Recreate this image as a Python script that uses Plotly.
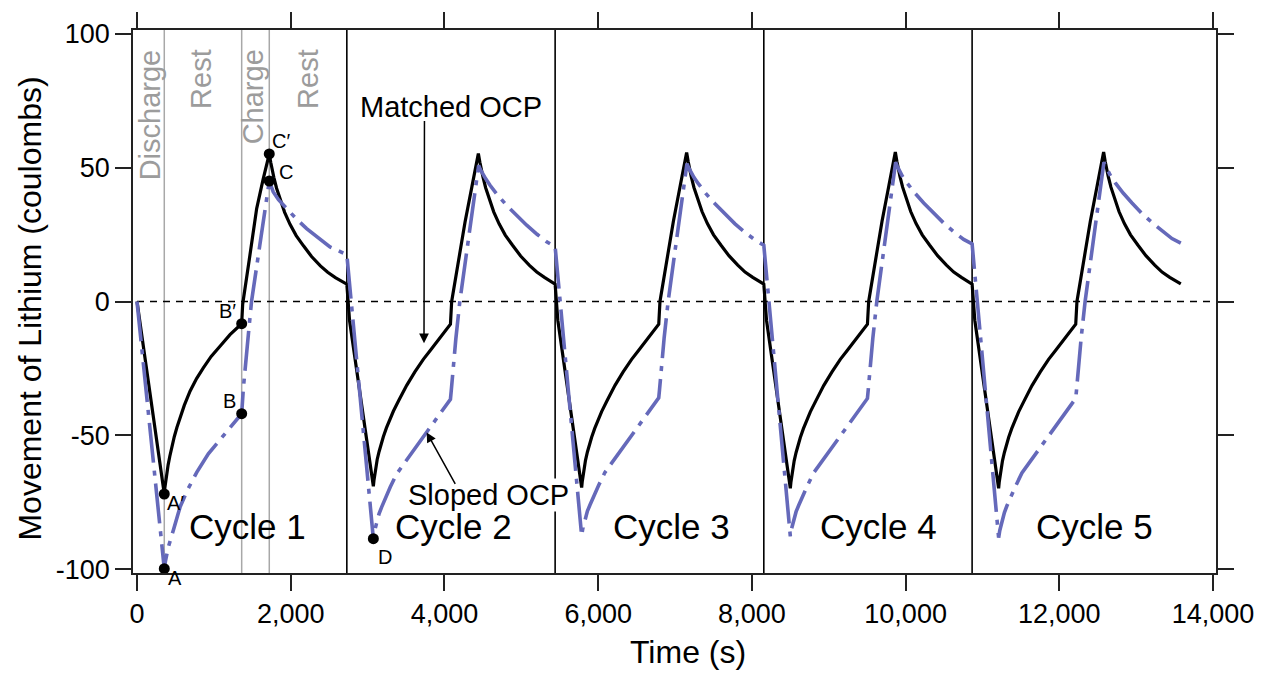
import plotly.graph_objects as go

# ---------------- data ----------------
# Matched OCP (black solid): time (s) and movement of lithium (C)
matched_t = [
    0, 355, 363, 373, 387, 405, 427, 452, 485, 520, 560, 615, 690, 775, 863, 965, 1080, 1210, 1362,
    1375, 1460, 1557, 1640, 1721, 1741, 1761, 1781, 1816, 1860, 1921, 1991, 2071, 2166, 2271, 2386, 2481, 2581,
    2730, 2765, 3075, 3083, 3093, 3107, 3125, 3150, 3175, 3205, 3245, 3285, 3335, 3405, 3509, 3615, 3725, 3815, 3899, 3985,
    4078, 4094, 4178, 4268, 4358, 4441, 4461, 4481, 4501, 4536, 4580, 4641, 4711, 4791, 4886, 4991, 5106, 5201, 5301,
    5440, 5475, 5785, 5793, 5803, 5817, 5835, 5860, 5885, 5915, 5955, 5995, 6045, 6115, 6219, 6325, 6435, 6525, 6609, 6695,
    6788, 6804, 6888, 6978, 7068, 7151, 7171, 7191, 7211, 7246, 7290, 7351, 7421, 7501, 7596, 7701, 7816, 7911, 8011,
    8155, 8190, 8500, 8508, 8518, 8532, 8550, 8575, 8600, 8630, 8670, 8710, 8760, 8830, 8934, 9040, 9150, 9240, 9324, 9410,
    9503, 9519, 9603, 9693, 9783, 9866, 9886, 9906, 9926, 9961, 10005, 10066, 10136, 10216, 10311, 10416, 10531, 10626, 10726,
    10865, 10900, 11210, 11218, 11228, 11242, 11260, 11285, 11310, 11340, 11380, 11420, 11470, 11540, 11644, 11750, 11860, 11950, 12034, 12120,
    12213, 12229, 12313, 12403, 12493, 12576, 12596, 12616, 12636, 12671, 12715, 12776, 12846, 12926, 13021, 13126, 13241, 13336, 13436,
    13580,
]
matched_q = [
    0, -71.9, -69.5, -67, -64, -61, -57.8, -54.5, -50.5, -47, -43.4, -38.8, -33.5, -28.8, -24.8, -20.5, -16.7, -12.4, -8.3,
    -1, 15.5, 34.7, 45.5, 55.1, 51.8, 48.8, 46.3, 42.3, 38.3, 33.3, 28.8, 24.6, 20.8, 16.8, 13.3, 10.9, 8.9,
    6.5, -7, -69, -66.8, -64.5, -62, -59, -56, -53.3, -50.5, -47.2, -44.3, -41, -37, -31.3, -26.3, -21.6, -18.3, -15.3, -12,
    -8.5, 0, 14.5, 29.7, 43, 55.3, 52, 49, 46.5, 42.5, 38.5, 33.5, 29, 24.8, 21, 17, 13.5, 11, 9,
    6.5, -7, -69.5, -67.2, -64.9, -62.3, -59.3, -56.2, -53.5, -50.7, -47.4, -44.4, -41.1, -37.1, -31.3, -26.3, -21.6, -18.3, -15.3, -12,
    -8.5, 0, 14.6, 29.9, 43.3, 55.6, 52.3, 49.2, 46.6, 42.6, 38.6, 33.6, 29.1, 24.9, 21.1, 17.1, 13.6, 11, 9,
    6.5, -7, -69.8, -67.4, -65.1, -62.5, -59.5, -56.4, -53.6, -50.8, -47.5, -44.5, -41.2, -37.2, -31.4, -26.4, -21.6, -18.3, -15.3, -12,
    -8.5, 0, 14.6, 30, 43.4, 55.8, 52.4, 49.3, 46.7, 42.7, 38.7, 33.6, 29.1, 24.9, 21.1, 17.1, 13.6, 11, 9,
    6.5, -7, -69.8, -67.4, -65.1, -62.5, -59.5, -56.4, -53.6, -50.8, -47.5, -44.5, -41.2, -37.2, -31.4, -26.4, -21.6, -18.3, -15.3, -12,
    -8.5, 0, 14.6, 30, 43.4, 55.8, 52.4, 49.3, 46.7, 42.7, 38.7, 33.6, 29.1, 24.9, 21.1, 17.1, 13.6, 11, 9,
    6.6,
]

# Sloped OCP (blue dash-dot)
sloped_t = [
    0, 355, 370, 405, 473, 560, 655, 777, 928, 1167, 1362, 1385, 1400, 1420, 1450, 1490, 1643,
    1721, 1746, 1773, 1841, 1947, 2071, 2207, 2361, 2511,
    2730, 3075, 3090, 3119, 3150, 3183, 3235, 3295, 3378, 3595, 3812, 4078, 4088, 4100, 4118, 4148, 4200, 4328,
    4445, 4465, 4490, 4535, 4593, 4695, 4810, 4935, 5070, 5205, 5330,
    5440, 5785, 5800, 5829, 5860, 5893, 5945, 6005, 6088, 6305, 6522, 6788, 6798, 6810, 6828, 6858, 6910, 7038,
    7155, 7175, 7200, 7245, 7303, 7405, 7520, 7645, 7780, 7915, 8040,
    8155, 8500, 8515, 8544, 8575, 8608, 8660, 8720, 8803, 9020, 9237, 9503, 9513, 9525, 9543, 9573, 9625, 9753,
    9870, 9890, 9915, 9960, 10018, 10120, 10235, 10360, 10495, 10630, 10755,
    10865, 11210, 11225, 11254, 11285, 11318, 11370, 11430, 11513, 11730, 11947, 12213, 12223, 12235, 12253, 12283, 12335, 12463,
    12580, 12600, 12625, 12670, 12728, 12830, 12945, 13070, 13205, 13340, 13465,
    13580,
]
sloped_q = [
    0, -99.8, -97, -92, -85.4, -76.8, -70.5, -63.8, -56.9, -48.9, -41.9, -32, -26.5, -21, -12, 0, 31,
    45, 43, 40.9, 38, 34.7, 30.9, 27.2, 23.6, 20.4,
    17.5, -88.6, -85.8, -82, -79.2, -76.8, -73, -69.3, -64.4, -55.8, -47.1, -36.5, -33.5, -29.5, -23, -14, 0, 26.5,
    50.8, 49.4, 48, 45.9, 43.4, 39.6, 35.9, 32.2, 28.5, 25.1, 22.3,
    20.5, -87.5, -84.8, -81, -78.3, -76, -72.3, -68.7, -63.8, -55.2, -46.6, -36, -33, -29, -22.6, -13.7, 0, 26.8,
    51.5, 50.1, 48.6, 46.4, 44, 40.2, 36.5, 32.8, 29, 25.7, 23,
    21, -87.7, -85, -81.2, -78.5, -76.2, -72.5, -68.9, -64, -55.4, -46.8, -36.2, -33.2, -29.2, -22.8, -13.8, 0, 27,
    52, 50.6, 49, 46.7, 44.3, 40.5, 36.8, 33, 29.3, 25.9, 23.2,
    21.5, -88.2, -85.5, -81.5, -78.8, -76.3, -72.6, -69, -64, -55.4, -46.8, -36.2, -33.2, -29.2, -22.8, -13.8, 0, 27,
    52, 50.6, 49, 46.7, 44.3, 40.5, 36.8, 33, 29.5, 26.2, 23.5,
    21.8,
]
assert len(matched_t) == len(matched_q) and len(sloped_t) == len(sloped_q)

# Labelled points
point_labels = ["A′", "A", "B′", "B", "C′", "C", "D"]
point_t = [355, 355, 1362, 1362, 1721, 1721, 3075]
point_q = [-71.9, -99.8, -8.3, -41.9, 55.1, 45, -88.6]

# Step boundaries in cycle 1 and cycle boundaries
phase_t = [355, 1362, 1721]
phase_labels = ["Discharge", "Rest", "Charge", "Rest"]
phase_label_t = [169, 833, 1509, 2225]
cycle_bounds = [2730, 5440, 8155, 10865]
cycle_labels = ["Cycle 1", "Cycle 2", "Cycle 3", "Cycle 4", "Cycle 5"]
cycle_label_t = [1444, 4113, 6948, 9641, 12451]

x_ticks = [0, 2000, 4000, 6000, 8000, 10000, 12000, 14000]
y_ticks = [-100, -50, 0, 50, 100]
y_ticktext = ["-100", "-50", "0", "50", "100"]

X_RANGE = [-52, 14038]
Y_RANGE = [-101.4, 101.4]

FONT = "Liberation Sans, Arial, sans-serif"
BLUE = "#6569BA"
GRAY = "#A8A8A8"

fig = go.Figure()

fig.add_trace(go.Scatter(x=matched_t, y=matched_q, mode="lines", name="Matched OCP",
                         line=dict(color="black", width=3.2), showlegend=False))
fig.add_trace(go.Scatter(x=sloped_t, y=sloped_q, mode="lines", name="Sloped OCP",
                         line=dict(color=BLUE, width=3.6, dash="40px,8px,5px,8px"), showlegend=False))
fig.add_trace(go.Scatter(x=point_t, y=point_q, mode="markers", showlegend=False,
                         marker=dict(color="black", size=11)))

shapes = []
for t in phase_t:
    shapes.append(dict(type="line", xref="x", yref="paper", x0=t, x1=t, y0=0, y1=1,
                       line=dict(color=GRAY, width=1.5), layer="below"))
for t in cycle_bounds:
    shapes.append(dict(type="line", xref="x", yref="paper", x0=t, x1=t, y0=0, y1=1,
                       line=dict(color="black", width=1.6), layer="below"))
shapes.append(dict(type="line", xref="x", yref="y", x0=0, x1=X_RANGE[1], y0=0, y1=0,
                   line=dict(color="black", width=1.4, dash="7px,6px"), layer="below"))

ann = []
for lab, t in zip(phase_labels, phase_label_t):
    ann.append(dict(x=t, y=95.1, xref="x", yref="y", text=lab, showarrow=False, textangle=-90,
                    xanchor="center", yanchor="top", font=dict(family=FONT, size=29, color="#9C9C9C")))
for lab, t in zip(cycle_labels, cycle_label_t):
    ann.append(dict(x=t, y=-83.9, xref="x", yref="y", text=lab, showarrow=False,
                    xanchor="center", yanchor="middle", font=dict(family=FONT, size=35, color="black")))

# point labels: (xanchor, yanchor, xshift, yshift)
lab_pos = [("left", "top", 1, 4), ("left", "top", 2, 4), ("right", "bottom", -4, 0),
           ("right", "bottom", -4, 0), ("left", "bottom", 1, 0), ("left", "bottom", 8, -4),
           ("left", "top", 3, -5)]
for lab, t, q, (xa, ya, xs, ys) in zip(point_labels, point_t, point_q, lab_pos):
    ann.append(dict(x=t, y=q, xref="x", yref="y", text=lab, showarrow=False, xanchor=xa, yanchor=ya,
                    xshift=xs, yshift=ys, font=dict(family=FONT, size=20, color="black")))

# callouts
ann.append(dict(x=4085, y=72.8, xref="x", yref="y", text="Matched OCP", showarrow=False,
                xanchor="center", yanchor="middle", font=dict(family=FONT, size=29, color="black")))
ann.append(dict(x=3734, y=-15.6, ax=3740, ay=68, xref="x", yref="y", axref="x", ayref="y", text="",
                showarrow=True, arrowhead=2, arrowsize=1.3, arrowwidth=1.5, arrowcolor="black"))
ann.append(dict(x=4567, y=-72.4, xref="x", yref="y", text="Sloped OCP", showarrow=False, bgcolor="white",
                borderpad=0, xanchor="center", yanchor="middle", font=dict(family=FONT, size=29, color="black")))
ann.append(dict(x=3769, y=-48.9, ax=4151, ay=-68.7, xref="x", yref="y", axref="x", ayref="y", text="",
                showarrow=True, arrowhead=2, arrowsize=1.3, arrowwidth=1.5, arrowcolor="black"))

# axis titles
ann.append(dict(x=0.5125, y=-0.1447, xref="paper", yref="paper", text="Time (s)", showarrow=False,
                xanchor="center", yanchor="middle", font=dict(family=FONT, size=32, color="black")))
ann.append(dict(x=-0.0951, y=0.487, xref="paper", yref="paper", text="Movement of Lithium (coulombs)",
                showarrow=False, textangle=-90, xanchor="center", yanchor="middle",
                font=dict(family=FONT, size=32, color="black")))

axis_common = dict(showline=True, linecolor="#222", linewidth=1.6, mirror="ticks", ticks="outside",
                   ticklen=16, tickwidth=1.6, tickcolor="#222", showgrid=False, zeroline=False,
                   tickfont=dict(family=FONT, size=27, color="black"))

fig.update_layout(
    width=1268, height=678,
    margin=dict(l=133, r=52, t=27, b=105),
    paper_bgcolor="white", plot_bgcolor="white",
    xaxis=dict(range=X_RANGE, tickvals=x_ticks, tickformat=",d", **axis_common),
    yaxis=dict(range=Y_RANGE, tickvals=y_ticks, ticktext=y_ticktext, **axis_common),
    shapes=shapes, annotations=ann, showlegend=False,
)

fig.write_html("out.html")
